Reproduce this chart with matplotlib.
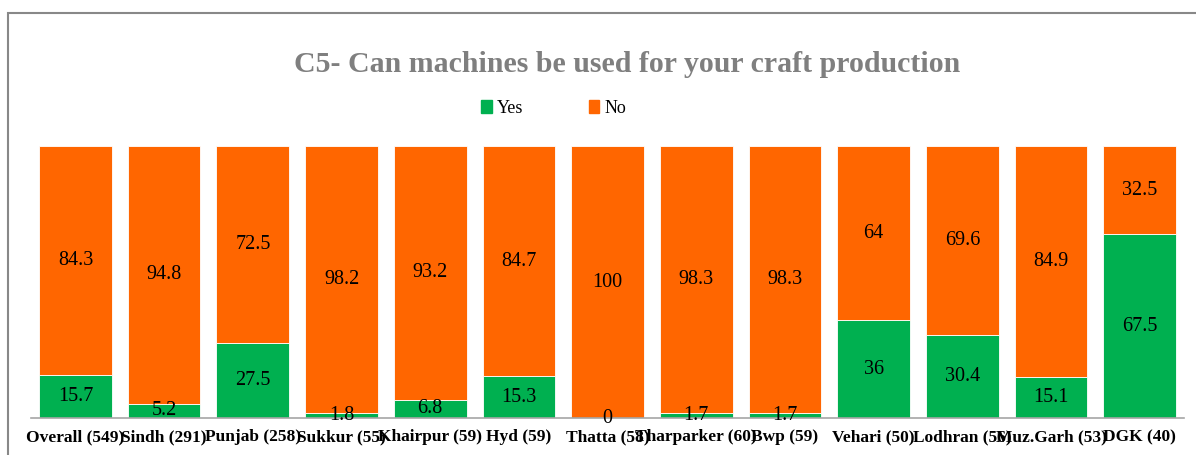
import matplotlib.pyplot as plt
from matplotlib.patches import Rectangle, Patch
import numpy as np

districts = ["Overall (549)", "Sindh (291)", "Punjab (258)", "Sukkur (55)", "Khairpur (59)",
             "Hyd (59)", "Thatta (58)", "Tharparker (60)", "Bwp (59)", "Vehari (50)",
             "Lodhran (56)", "Muz.Garh (53)", "DGK (40)"]
yes_pct = [15.7, 5.2, 27.5, 1.8, 6.8, 15.3, 0, 1.7, 1.7, 36, 30.4, 15.1, 67.5]
no_pct = [84.3, 94.8, 72.5, 98.2, 93.2, 84.7, 100, 98.3, 98.3, 64, 69.6, 84.9, 32.5]

green = "#00B050"
orange = "#FF6600"
serif = "Liberation Serif"

fig = plt.figure(figsize=(11.96, 4.55), dpi=100)
ax = fig.add_axes([0.026, 0.0813, 0.964, 0.5978])

x = np.arange(len(districts))
ax.bar(x, yes_pct, width=0.82, color=green, edgecolor="white", linewidth=0.6)
ax.bar(x, no_pct, width=0.82, bottom=yes_pct, color=orange, edgecolor="white", linewidth=0.6)

# value labels in the middle of each segment
for i in range(len(x)):
    ax.text(x[i], yes_pct[i] / 2, f"{yes_pct[i]:g}", ha="center", va="center",
            fontsize=14.5, family=serif)
    ax.text(x[i], yes_pct[i] + no_pct[i] / 2, f"{no_pct[i]:g}", ha="center", va="center",
            fontsize=14.5, family=serif)

ax.set_xlim(-0.5, len(x) - 0.5)
ax.set_ylim(0, 100)
ax.set_xticks(x)
ax.set_xticklabels(districts, fontsize=12.5, fontweight="bold", family=serif)
ax.tick_params(axis="x", length=0, pad=8)
ax.set_yticks([])
for s in ["top", "right", "left"]:
    ax.spines[s].set_visible(False)
ax.spines["bottom"].set_color("#a6a6a6")
ax.spines["bottom"].set_linewidth(1.2)

fig.text(0.524, 0.858, "C5- Can machines be used for your craft production", ha="center",
         va="center", fontsize=21.5, fontweight="bold", color="#7f7f7f", family=serif)

handles = [Patch(color=green, label="Yes"), Patch(color=orange, label="No")]
fig.legend(handles=handles, loc="center", bbox_to_anchor=(0.463, 0.762), ncol=2, frameon=False,
           prop={"family": serif, "size": 13}, handlelength=0.6, handleheight=0.7,
           handletextpad=0.3, columnspacing=3.6)

# outer chart border
fig.patches.append(Rectangle((0.0067, -0.1), 1.2, 1.0714, transform=fig.transFigure,
                             fill=False, edgecolor="#888888", linewidth=1.5))

fig.savefig("out.png", dpi=100)
